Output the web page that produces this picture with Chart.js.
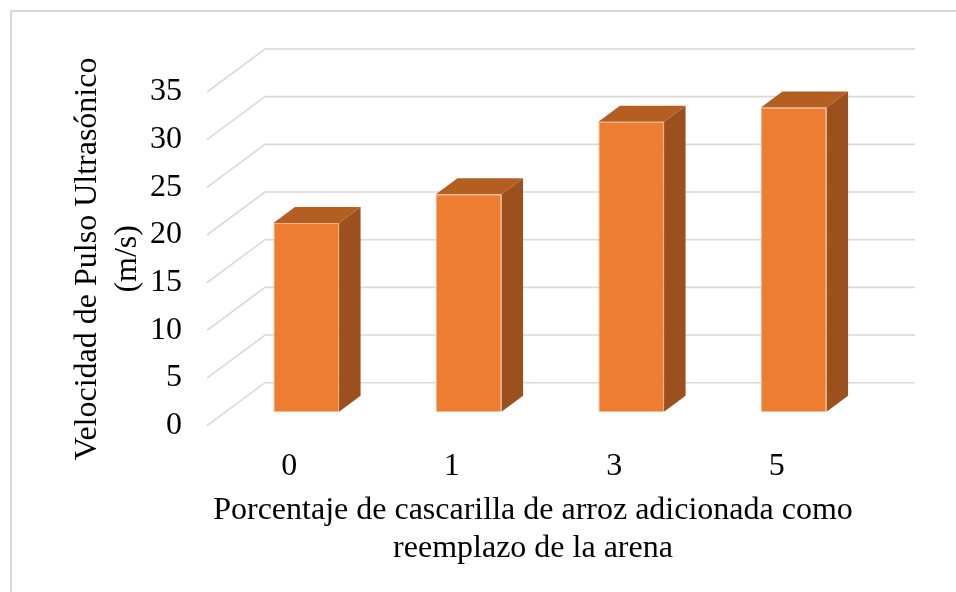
<!DOCTYPE html>
<html>
<head>
<meta charset="utf-8">
<script src="https://cdn.jsdelivr.net/npm/chart.js@4/dist/chart.umd.min.js"></script>
<style>
  body { margin: 0; background: #fff; }
  #wrap { width: 956px; height: 592px; }
</style>
</head>
<body>
<div id="wrap"><canvas id="myChart" width="956" height="592"></canvas></div>
<script>
//?Datos de la grafica
const categorias = ['0', '1', '3', '5']
const velocidad = [19.8, 22.8, 30.4, 31.9]
const ticksY = [0, 5, 10, 15, 20, 25, 30, 35]
const tituloY = ['Velocidad de Pulso Ultrasónico', '(m/s)']
const tituloX = ['Porcentaje de cascarilla de arroz adicionada como', 'reemplazo de la arena']

//*Perspectiva 3D (pared del fondo y profundidad de las barras)
const pared = { dx: 57, dy: -43 }
const desplazo = { dx: 17, dy: -14 }
const fondoBarra = { dx: 21.5, dy: -16 }
const colorFrente = '#ed7d31'
const colorTapa = '#b55e22'
const colorLado = '#9c501e'
const colorGrid = '#d9d9d9'
const fuente = { family: "'Liberation Serif', 'Times New Roman', serif", size: 32, lineHeight: 1.2 }

//Marco del grafico y lineas de la pared
const fondo3D = {
  id: 'fondo3D',
  beforeDraw(chart) {
    const { ctx, chartArea, scales } = chart
    ctx.save()
    ctx.fillStyle = '#fff'
    ctx.fillRect(0, 0, chart.width, chart.height)
    ctx.strokeStyle = colorGrid
    ctx.lineWidth = 2
    ctx.strokeRect(11, 11, chart.width, chart.height)
    ctx.lineWidth = 1.6
    ticksY.forEach(v => {
      const y = scales.y.getPixelForValue(v)
      ctx.beginPath()
      ctx.moveTo(chartArea.left - 1, y)
      ctx.lineTo(chartArea.left + pared.dx, y + pared.dy)
      ctx.lineTo(chartArea.right + pared.dx, y + pared.dy)
      ctx.stroke()
    })
    ctx.restore()
  },
  //!Caras laterales y superiores de cada barra
  beforeDatasetsDraw(chart) {
    const { ctx } = chart
    ctx.save()
    ctx.translate(desplazo.dx, desplazo.dy)
    chart.getDatasetMeta(0).data.forEach(bar => {
      const izq = bar.x - bar.width / 2
      const der = bar.x + bar.width / 2
      ctx.fillStyle = colorLado
      ctx.beginPath()
      ctx.moveTo(der, bar.base)
      ctx.lineTo(der + fondoBarra.dx, bar.base + fondoBarra.dy)
      ctx.lineTo(der + fondoBarra.dx, bar.y + fondoBarra.dy)
      ctx.lineTo(der, bar.y)
      ctx.closePath()
      ctx.fill()
      ctx.fillStyle = colorTapa
      ctx.beginPath()
      ctx.moveTo(izq, bar.y)
      ctx.lineTo(izq + fondoBarra.dx, bar.y + fondoBarra.dy)
      ctx.lineTo(der + fondoBarra.dx, bar.y + fondoBarra.dy)
      ctx.lineTo(der, bar.y)
      ctx.closePath()
      ctx.fill()
    })
  },
  afterDatasetsDraw(chart) {
    chart.ctx.restore()
  }
}

const ctx = document.getElementById('myChart').getContext('2d')
const myChart = new Chart(ctx, {
  type: 'bar',
  data: {
    labels: categorias,
    datasets: [{
      data: velocidad,
      backgroundColor: colorFrente,
      borderColor: '#f4b183',
      borderWidth: 1,
      barPercentage: 0.404,
      categoryPercentage: 1,
      clip: false
    }]
  },
  plugins: [fondo3D],
  options: {
    responsive: false,
    devicePixelRatio: 1,
    animation: false,
    events: [],
    layout: { padding: { left: 60, right: 98, top: 92, bottom: 20 } },
    plugins: { legend: { display: false }, tooltip: { enabled: false } },
    scales: {
      x: {
        grid: { display: false, drawTicks: false },
        border: { display: false },
        ticks: { color: '#000', font: fuente, padding: 22, maxRotation: 0 },
        title: { display: true, text: tituloX, color: '#000', font: fuente, padding: { top: 0, bottom: 4 } },
        afterFit: scale => { scale.height = 146.3 }
      },
      y: {
        min: 0,
        max: 35,
        grid: { display: false, drawTicks: false },
        border: { display: false },
        ticks: { color: '#000', font: fuente, padding: 26, stepSize: 5 },
        title: { display: true, text: tituloY, color: '#000', font: { ...fuente, lineHeight: 1.25 }, padding: { top: 8, bottom: 0 } },
        afterFit: scale => { scale.width = 148 }
      }
    }
  }
})
</script>
</body>
</html>
